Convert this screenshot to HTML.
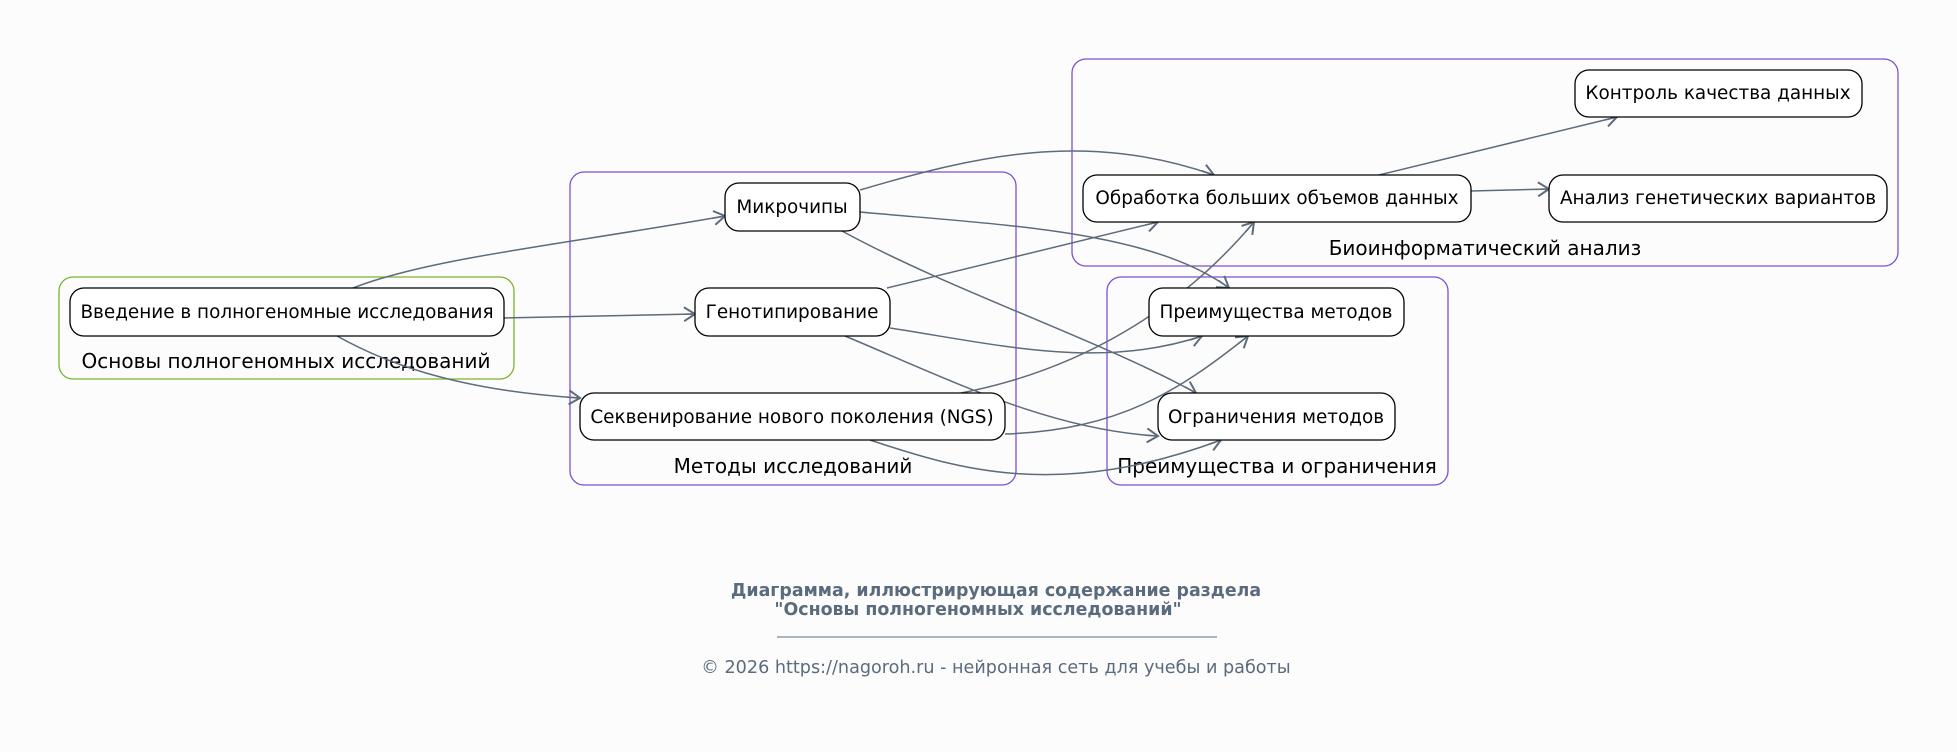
<!DOCTYPE html>
<html><head><meta charset="utf-8"><style>
html,body{margin:0;padding:0;background:#fdfcfc;}
svg{display:block;font-family:"DejaVu Sans","Liberation Sans",sans-serif;}
</style></head><body>
<svg width="1957" height="752" viewBox="0 0 1957 752" xmlns="http://www.w3.org/2000/svg">
<defs>
<marker id="a" markerWidth="16" markerHeight="16" refX="13" refY="8" orient="auto" markerUnits="userSpaceOnUse">
<path d="M2,1 L13,8 L2,15" fill="none" stroke="#5d6b7a" stroke-width="2"/>
<path d="M0,8 L13,8" stroke="#5d6b7a" stroke-width="1.5"/>
</marker>
</defs>
<rect width="1957" height="752" fill="#fdfcfc"/>
<rect x="59" y="277" width="455" height="102" rx="14" fill="none" stroke="#7cb32e" stroke-width="1.3"/>
<rect x="570" y="172" width="446" height="313" rx="14" fill="none" stroke="#7e4fd0" stroke-width="1.3"/>
<rect x="1072" y="59" width="826" height="207" rx="14" fill="none" stroke="#7e4fd0" stroke-width="1.3"/>
<rect x="1107" y="277" width="341" height="208" rx="14" fill="none" stroke="#7e4fd0" stroke-width="1.3"/>
<g font-size="20" fill="#000" text-anchor="middle">
<text x="286" y="368">Основы полногеномных исследований</text>
<text x="793" y="473">Методы исследований</text>
<text x="1485" y="255">Биоинформатический анализ</text>
<text x="1277" y="473">Преимущества и ограничения</text>
</g>
<g fill="none" stroke="#5d6b7a" stroke-width="1.5" marker-end="url(#a)">
<path d="M353,288 C430,258 560,245 725,216"/>
<path d="M504,318 L695,314"/>
<path d="M337,336 C380,360 450,390 580,398"/>
<path d="M860,190 C975,156 1085,130 1214,175"/>
<path d="M860,212 C1000,225 1150,230 1229,288"/>
<path d="M842,231 C950,290 1100,340 1196,393"/>
<path d="M887,288 L1158,222"/>
<path d="M890,328 C1000,345 1100,370 1202,336"/>
<path d="M845,336 C950,380 1050,430 1158,436"/>
<path d="M961,393 C1080,370 1180,310 1254,222"/>
<path d="M1005,434 C1120,430 1180,390 1248,336"/>
<path d="M870,440 C960,470 1060,500 1221,440"/>
<path d="M1379,175 L1617,117"/>
<path d="M1471,191 L1549,189"/>
</g>
<g fill="#fff" stroke="#000" stroke-width="1.3">
<rect x="70" y="288" width="434" height="48" rx="14"/>
<rect x="725" y="183" width="135" height="48" rx="14"/>
<rect x="695" y="288" width="195" height="48" rx="14"/>
<rect x="580" y="393" width="425" height="47" rx="14"/>
<rect x="1575" y="70" width="287" height="47" rx="14"/>
<rect x="1083" y="175" width="388" height="47" rx="14"/>
<rect x="1549" y="175" width="338" height="47" rx="14"/>
<rect x="1149" y="288" width="255" height="48" rx="14"/>
<rect x="1158" y="393" width="237" height="47" rx="14"/>
</g>
<g font-size="18.4" fill="#000" text-anchor="middle">
<text x="287" y="318">Введение в полногеномные исследования</text>
<text x="792" y="213">Микрочипы</text>
<text x="792" y="318">Генотипирование</text>
<text x="792" y="423">Секвенирование нового поколения (NGS)</text>
<text x="1718" y="99">Контроль качества данных</text>
<text x="1277" y="204">Обработка больших объемов данных</text>
<text x="1718" y="204">Анализ генетических вариантов</text>
<text x="1276" y="318">Преимущества методов</text>
<text x="1276" y="423">Ограничения методов</text>
</g>
<g fill="#5a6b7d" text-anchor="middle">
<text x="996" y="596" font-size="17.4" font-weight="bold">Диаграмма, иллюстрирующая содержание раздела</text>
<text x="978" y="615" font-size="17.4" font-weight="bold">"Основы полногеномных исследований"</text>
<line x1="777" y1="637" x2="1217" y2="637" stroke="#5a6b7d" stroke-width="1"/>
<text x="996" y="673" font-size="17.6">© 2026 https://nagoroh.ru - нейронная сеть для учебы и работы</text>
</g>
</svg>
</body></html>
